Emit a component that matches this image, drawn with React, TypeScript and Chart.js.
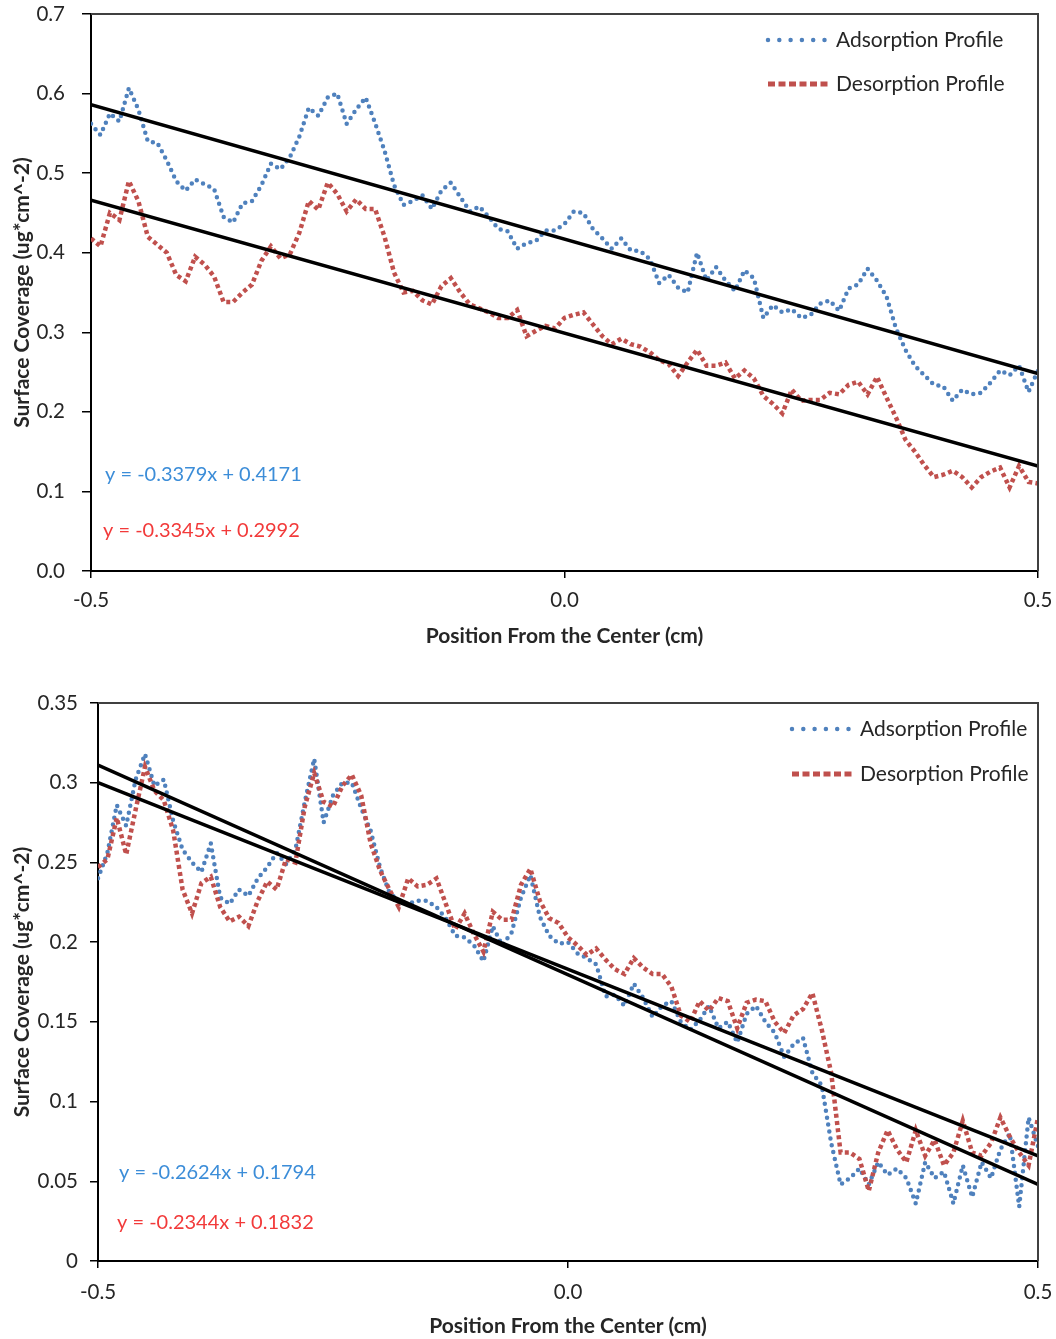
import React, { useEffect, useRef } from 'react';
import { Chart, registerables } from 'chart.js';

Chart.register(...registerables);

const FONT = 'Lato, "Liberation Sans", sans-serif';

// sampled positions: start and step along the x axis (cm)
const profileStart = -0.5;
const profileStep = 0.01;
const xTickValues = [-0.5, 0, 0.5];

const seriesNames = ['Adsorption Profile', 'Desorption Profile'];
const xTitle = 'Position From the Center (cm)';
const yTitle = 'Surface Coverage (ug*cm^-2)';

// ---------- top chart ----------
const adsorptionTop = [
  0.562, 0.548, 0.575, 0.565, 0.607, 0.580, 0.540, 0.538, 0.516, 0.490,
  0.478, 0.492, 0.486, 0.480, 0.445, 0.438, 0.462, 0.465, 0.485, 0.512,
  0.505, 0.520, 0.546, 0.582, 0.572, 0.595, 0.600, 0.562, 0.580, 0.595,
  0.563, 0.528, 0.485, 0.460, 0.465, 0.472, 0.455, 0.478, 0.488, 0.470,
  0.452, 0.458, 0.445, 0.430, 0.427, 0.405, 0.412, 0.415, 0.428, 0.428,
  0.436, 0.452, 0.450, 0.430, 0.418, 0.405, 0.418, 0.403, 0.402, 0.392,
  0.362, 0.372, 0.356, 0.350, 0.400, 0.365, 0.382, 0.365, 0.352, 0.378,
  0.368, 0.318, 0.334, 0.325, 0.329, 0.318, 0.322, 0.336, 0.340, 0.327,
  0.355, 0.360, 0.380, 0.365, 0.345, 0.305, 0.278, 0.258, 0.246, 0.234,
  0.232, 0.214, 0.228, 0.222, 0.224, 0.237, 0.252, 0.246, 0.258, 0.225,
  0.252,
];
const desorptionTop = [
  0.418, 0.408, 0.450, 0.441, 0.490, 0.465, 0.420, 0.410, 0.400, 0.372,
  0.364, 0.395, 0.385, 0.370, 0.338, 0.338, 0.350, 0.360, 0.390, 0.408,
  0.393, 0.398, 0.425, 0.465, 0.454, 0.488, 0.474, 0.452, 0.467, 0.455,
  0.455, 0.420, 0.375, 0.350, 0.352, 0.340, 0.335, 0.358, 0.368, 0.350,
  0.335, 0.330, 0.325, 0.318, 0.318, 0.328, 0.295, 0.302, 0.308, 0.305,
  0.318, 0.322, 0.325, 0.310, 0.295, 0.285, 0.292, 0.285, 0.282, 0.275,
  0.265, 0.260, 0.245, 0.262, 0.278, 0.258, 0.258, 0.262, 0.242, 0.252,
  0.242, 0.220, 0.210, 0.198, 0.228, 0.214, 0.215, 0.215, 0.224, 0.222,
  0.234, 0.238, 0.222, 0.244, 0.218, 0.193, 0.165, 0.150, 0.133, 0.118,
  0.121, 0.126, 0.118, 0.105, 0.118, 0.125, 0.130, 0.105, 0.132, 0.112,
  0.110,
];
const trendAdsorptionTop = [0.586, 0.248];
const trendDesorptionTop = [0.466, 0.132];
const equationsTop = ['y = -0.3379x + 0.4171', 'y = -0.3345x + 0.2992'];

// ---------- bottom chart ----------
const adsorptionBottom = [
  0.240, 0.256, 0.286, 0.273, 0.302, 0.318, 0.298, 0.302, 0.276, 0.258,
  0.250, 0.244, 0.262, 0.228, 0.224, 0.233, 0.229, 0.240, 0.247, 0.256,
  0.249, 0.258, 0.288, 0.315, 0.275, 0.292, 0.300, 0.300, 0.284, 0.270,
  0.247, 0.231, 0.226, 0.224, 0.226, 0.226, 0.222, 0.215, 0.204, 0.203,
  0.198, 0.188, 0.210, 0.198, 0.206, 0.228, 0.242, 0.216, 0.204, 0.199,
  0.200, 0.193, 0.190, 0.186, 0.166, 0.167, 0.160, 0.174, 0.165, 0.153,
  0.160, 0.163, 0.150, 0.145, 0.151, 0.160, 0.146, 0.150, 0.137, 0.155,
  0.160, 0.150, 0.143, 0.128, 0.136, 0.140, 0.118, 0.110, 0.074, 0.048,
  0.052, 0.058, 0.048, 0.062, 0.054, 0.058, 0.052, 0.036, 0.062, 0.052,
  0.056, 0.036, 0.060, 0.040, 0.062, 0.052, 0.070, 0.080, 0.034, 0.090,
  0.072,
];
const desorptionBottom = [
  0.247, 0.252, 0.278, 0.255, 0.283, 0.310, 0.295, 0.289, 0.270, 0.233,
  0.218, 0.237, 0.241, 0.222, 0.213, 0.216, 0.210, 0.226, 0.238, 0.233,
  0.252, 0.250, 0.285, 0.306, 0.288, 0.285, 0.298, 0.305, 0.292, 0.262,
  0.245, 0.233, 0.222, 0.240, 0.235, 0.236, 0.240, 0.224, 0.208, 0.218,
  0.205, 0.194, 0.219, 0.214, 0.214, 0.236, 0.246, 0.226, 0.215, 0.212,
  0.203, 0.198, 0.192, 0.196, 0.189, 0.183, 0.180, 0.190, 0.184, 0.180,
  0.180, 0.172, 0.154, 0.150, 0.163, 0.157, 0.165, 0.163, 0.146, 0.162,
  0.164, 0.163, 0.150, 0.143, 0.154, 0.158, 0.168, 0.145, 0.118, 0.068,
  0.068, 0.064, 0.044, 0.068, 0.082, 0.070, 0.062, 0.082, 0.066, 0.076,
  0.060, 0.068, 0.088, 0.068, 0.066, 0.074, 0.090, 0.078, 0.068, 0.060,
  0.090,
];
const trendAdsorptionBottom = [0.311, 0.048];
const trendDesorptionBottom = [0.300, 0.066];
const equationsBottom = ['y = -0.2624x + 0.1794', 'y = -0.2344x + 0.1832'];

const BLUE = '#4F81BD';
const RED = '#C0504D';
const EQ_BLUE = '#3C8DD8';
const EQ_RED = '#F23A3A';
const TEXT = '#262626';

const toPoints = (vals: number[]) =>
  vals.map((v, i) => ({ x: +(profileStart + i * profileStep).toFixed(3), y: v }));
const trendPoints = (t: number[]) => [
  { x: xTickValues[0], y: t[0] },
  { x: xTickValues[2], y: t[1] },
];

const overlayPlugin = {
  id: 'overlay',
  afterDraw(chart: any, _args: any, o: any) {
    const { ctx, chartArea: a } = chart;
    ctx.save();
    // plot frame (top & right)
    ctx.strokeStyle = '#404040';
    ctx.lineWidth = 2;
    ctx.setLineDash([]);
    ctx.beginPath();
    ctx.moveTo(a.left, a.top);
    ctx.lineTo(a.right, a.top);
    ctx.lineTo(a.right, a.bottom);
    ctx.stroke();

    // legend
    const lg = o.legend;
    ctx.font = `${lg.size}px ${FONT}`;
    ctx.textBaseline = 'middle';
    ctx.textAlign = 'left';
    ctx.strokeStyle = BLUE;
    ctx.lineWidth = 4.5;
    ctx.lineCap = 'round';
    ctx.setLineDash([0, 11.3]);
    ctx.beginPath();
    ctx.moveTo(lg.x, lg.y[0]);
    ctx.lineTo(lg.x + 57, lg.y[0]);
    ctx.stroke();
    ctx.strokeStyle = RED;
    ctx.lineWidth = 5;
    ctx.lineCap = 'butt';
    ctx.setLineDash([7, 3.5]);
    ctx.beginPath();
    ctx.moveTo(lg.x, lg.y[1]);
    ctx.lineTo(lg.x + 62, lg.y[1]);
    ctx.stroke();
    ctx.setLineDash([]);
    ctx.fillStyle = TEXT;
    ctx.fillText(seriesNames[0], lg.textX, lg.y[0]);
    ctx.fillText(seriesNames[1], lg.textX, lg.y[1]);

    // equations
    const eq = o.equations;
    ctx.font = `${eq.size}px ${FONT}`;
    ctx.fillStyle = EQ_BLUE;
    ctx.fillText(eq.text[0], eq.x[0], eq.y[0]);
    ctx.fillStyle = EQ_RED;
    ctx.fillText(eq.text[1], eq.x[1], eq.y[1]);
    ctx.restore();
  },
};

interface Spec {
  height: number;
  ads: number[];
  des: number[];
  trendAds: number[];
  trendDes: number[];
  equations: string[];
  yMax: number;
  yStep: number;
  yFormat: (v: number) => string;
  padTop: number;
  yAxisWidth: number;
  yTickLen: number;
  yTickPad: number;
  xAxisHeight: number;
  xTickPad: number;
  xTitlePadBottom: number;
  legend: { x: number; textX: number; y: number[]; size: number };
  eq: { x: number[]; y: number[]; size: number };
}

const zeroPadding = (sc: any) => {
  sc.paddingTop = 0;
  sc.paddingBottom = 0;
  sc.paddingLeft = 0;
  sc.paddingRight = 0;
};

const TICK_SIZE = 20.5;
const TITLE_SIZE = 21;

function buildConfig(s: Spec): any {
  return {
    type: 'line',
    data: {
      datasets: [
        { label: 'trendA', data: trendPoints(s.trendAds), borderColor: '#000', borderWidth: 3.5, pointRadius: 0, tension: 0 },
        { label: 'trendD', data: trendPoints(s.trendDes), borderColor: '#000', borderWidth: 3.5, pointRadius: 0, tension: 0 },
        {
          label: seriesNames[1], data: toPoints(s.des), borderColor: RED, borderWidth: 4.5,
          borderDash: [4, 3.2], borderCapStyle: 'butt', borderJoinStyle: 'miter', pointRadius: 0, tension: 0,
        },
        {
          label: seriesNames[0], data: toPoints(s.ads), borderColor: BLUE, borderWidth: 4.5,
          borderDash: [0, 7], borderCapStyle: 'round', borderJoinStyle: 'round', pointRadius: 0, tension: 0,
        },
      ],
    },
    options: {
      animation: false,
      responsive: false,
      events: [],
      layout: { padding: { left: 0, top: s.padTop, right: 18, bottom: 0 } },
      plugins: {
        legend: { display: false },
        tooltip: { enabled: false },
        overlay: {
          legend: s.legend,
          equations: { text: s.equations, x: s.eq.x, y: s.eq.y, size: s.eq.size },
        },
      },
      scales: {
        x: {
          type: 'linear',
          min: xTickValues[0],
          max: xTickValues[2],
          afterBuildTicks: (sc: any) => {
            sc.ticks = xTickValues.map((v) => ({ value: v }));
          },
          afterFit: (sc: any) => {
            sc.height = s.xAxisHeight;
            zeroPadding(sc);
          },
          ticks: {
            callback: (v: any) => Number(v).toFixed(1),
            font: { family: FONT, size: TICK_SIZE },
            color: TEXT,
            padding: s.xTickPad,
            maxRotation: 0,
            autoSkip: false,
          },
          grid: { drawOnChartArea: false, tickLength: 7, color: '#000', lineWidth: 1.5 },
          border: { color: '#000', width: 2 },
          title: {
            display: true,
            text: xTitle,
            color: TEXT,
            font: { family: FONT, size: TITLE_SIZE, weight: 'bold' },
            padding: { top: 0, bottom: s.xTitlePadBottom },
          },
        },
        y: {
          type: 'linear',
          min: 0,
          max: s.yMax,
          ticks: {
            stepSize: s.yStep,
            callback: (v: any) => s.yFormat(Number(v)),
            font: { family: FONT, size: TICK_SIZE },
            color: TEXT,
            padding: s.yTickPad,
          },
          afterFit: (sc: any) => {
            sc.width = s.yAxisWidth;
            zeroPadding(sc);
          },
          grid: { drawOnChartArea: false, tickLength: s.yTickLen, color: '#000', lineWidth: 1.5 },
          border: { color: '#000', width: 2 },
          title: {
            display: true,
            text: yTitle,
            color: TEXT,
            font: { family: FONT, size: TITLE_SIZE, weight: 'bold' },
            padding: { top: 9.9, bottom: 0 },
          },
        },
      },
    },
    plugins: [overlayPlugin],
  };
}

const topSpec: Spec = {
  height: 660,
  ads: adsorptionTop,
  des: desorptionTop,
  trendAds: trendAdsorptionTop,
  trendDes: trendDesorptionTop,
  equations: equationsTop,
  yMax: 0.7,
  yStep: 0.1,
  yFormat: (v) => v.toFixed(1),
  padTop: 14,
  yAxisWidth: 91,
  yTickLen: 9,
  yTickPad: 17,
  xAxisHeight: 89,
  xTickPad: 9.7,
  xTitlePadBottom: 11.4,
  legend: { x: 768, textX: 836, y: [40, 84], size: 21 },
  eq: { x: [105, 103], y: [475, 531], size: 20 },
};

const bottomSpec: Spec = {
  height: 659,
  ads: adsorptionBottom,
  des: desorptionBottom,
  trendAds: trendAdsorptionBottom,
  trendDes: trendDesorptionBottom,
  equations: equationsBottom,
  yMax: 0.35,
  yStep: 0.05,
  yFormat: (v) => String(parseFloat(v.toFixed(2))),
  padTop: 23,
  yAxisWidth: 98,
  yTickLen: 8,
  yTickPad: 12,
  xAxisHeight: 78,
  xTickPad: 11.7,
  xTitlePadBottom: 0,
  legend: { x: 792, textX: 860, y: [49, 94], size: 21 },
  eq: { x: [119, 117], y: [493, 543], size: 20 },
};

function ProfileChart({ spec, top }: { spec: Spec; top: number }) {
  const ref = useRef<HTMLCanvasElement | null>(null);
  useEffect(() => {
    if (!ref.current) return;
    const chart = new Chart(ref.current, buildConfig(spec));
    return () => chart.destroy();
  }, [spec]);
  return (
    <canvas
      ref={ref}
      width={1056}
      height={spec.height}
      style={{ position: 'absolute', left: 0, top, width: 1056, height: spec.height, display: 'block' }}
    />
  );
}

export default function App() {
  return (
    <div style={{ position: 'absolute', left: 0, top: 0, width: 1056, height: 1339, background: '#fff' }}>
      <ProfileChart spec={topSpec} top={0} />
      <ProfileChart spec={bottomSpec} top={680} />
    </div>
  );
}
